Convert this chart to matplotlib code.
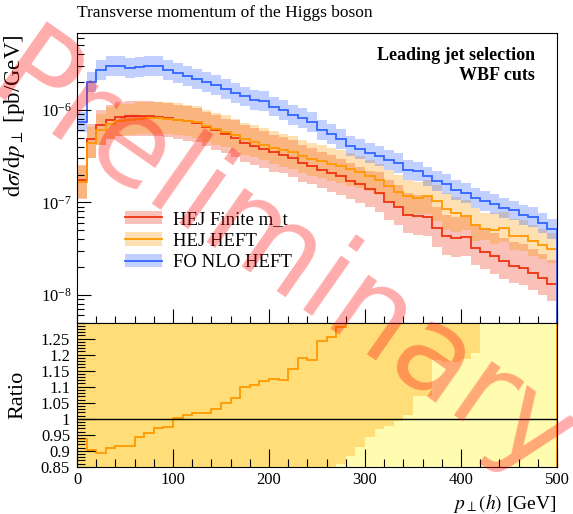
import numpy as np
import matplotlib
matplotlib.use("Agg")
import matplotlib.pyplot as plt
from matplotlib.patches import Patch
from matplotlib.lines import Line2D
from matplotlib.ticker import MultipleLocator, LogLocator, NullFormatter

plt.rcParams['font.family'] = 'serif'
plt.rcParams['font.serif'] = ['Liberation Serif', 'DejaVu Serif']
plt.rcParams['mathtext.fontset'] = 'stix'

# pT bins, 10 GeV wide
edges = np.arange(0, 510, 10)

# HEJ Finite m_t  [pb/GeV]
finite = [1.76e-7, 4.89e-7, 6.81e-7, 7.85e-7, 8.40e-7, 8.53e-7, 8.53e-7, 8.53e-7, 8.40e-7, 8.26e-7,
          7.85e-7, 7.53e-7, 7.23e-7, 6.55e-7, 6.01e-7, 5.54e-7, 5.01e-7, 4.39e-7, 4.11e-7, 3.78e-7,
          3.47e-7, 3.28e-7, 3.02e-7, 2.67e-7, 2.49e-7, 2.26e-7, 2.08e-7, 1.91e-7, 1.72e-7, 1.57e-7,
          1.40e-7, 1.25e-7, 1.02e-7, 8.97e-8, 7.35e-8, 7.05e-8, 6.94e-8, 5.27e-8, 4.28e-8, 4.11e-8,
          4.22e-8, 3.21e-8, 2.94e-8, 2.60e-8, 2.30e-8, 2.06e-8, 1.95e-8, 1.72e-8, 1.52e-8, 1.32e-8]
# HEJ HEFT
heft = [1.65e-7, 4.41e-7, 6.09e-7, 7.12e-7, 7.68e-7, 7.80e-7, 8.03e-7, 8.15e-7, 8.16e-7, 8.05e-7,
        7.87e-7, 7.62e-7, 7.36e-7, 6.67e-7, 6.20e-7, 5.81e-7, 5.34e-7, 4.82e-7, 4.54e-7, 4.22e-7,
        3.90e-7, 3.68e-7, 3.49e-7, 3.18e-7, 2.95e-7, 2.81e-7, 2.61e-7, 2.46e-7, 2.28e-7, 2.12e-7,
        1.93e-7, 1.74e-7, 1.49e-7, 1.31e-7, 1.16e-7, 1.11e-7, 1.16e-7, 1.04e-7, 8.53e-8, 7.67e-8,
        7.16e-8, 5.73e-8, 5.14e-8, 5.06e-8, 5.27e-8, 4.36e-8, 4.28e-8, 3.78e-8, 3.48e-8, 3.13e-8]
# FO NLO HEFT
fonlo = [7.41e-7, 2.01e-6, 2.73e-6, 3.02e-6, 2.97e-6, 2.82e-6, 2.92e-6, 2.97e-6, 3.02e-6, 2.69e-6,
         2.52e-6, 2.31e-6, 2.17e-6, 1.99e-6, 1.85e-6, 1.69e-6, 1.52e-6, 1.40e-6, 1.29e-6, 1.24e-6,
         1.09e-6, 1.01e-6, 8.89e-7, 8.19e-7, 7.34e-7, 6.12e-7, 5.54e-7, 4.85e-7, 4.11e-7, 3.78e-7,
         3.42e-7, 3.15e-7, 2.85e-7, 2.65e-7, 2.22e-7, 2.16e-7, 1.91e-7, 1.69e-7, 1.59e-7, 1.37e-7,
         1.26e-7, 1.11e-7, 1.04e-7, 9.66e-8, 8.69e-8, 8.18e-8, 7.35e-8, 6.94e-8, 5.97e-8, 5.19e-8]

# scale-variation bands, relative to the central value
finite_lo = [0.62] * 21 + [0.63] * 20 + [0.65] * 9
finite_hi = [1.45] * 16 + [1.55] * 15 + [1.70] * 10 + [1.80] * 9
heft_lo = ([0.68] * 20 + [0.66] * 7 +
           [0.667, 0.666, 0.675, 0.685, 0.695, 0.67, 0.68, 0.64, 0.68, 0.64, 0.60, 0.59, 0.63, 0.70, 0.675,
            0.76, 0.70, 0.70, 0.70, 0.70, 0.70, 0.70, 0.70])
heft_hi = [1.50] * 50
fonlo_lo = [0.78] * 50
fonlo_hi = [1.28] * 50

labels = ["HEJ Finite m_t", "HEJ HEFT", "FO NLO HEFT"]
colors = ["#ee3311", "#ff9900", "#3366ff"]

finite = np.array(finite)
heft = np.array(heft)
fonlo = np.array(fonlo)
series = [(finite, finite_lo, finite_hi), (heft, heft_lo, heft_hi), (fonlo, fonlo_lo, fonlo_hi)]

fig = plt.figure(figsize=(5.73, 5.14), dpi=100)
ax = fig.add_axes([0.1344, 0.3722, 0.8377, 0.5636])
axr = fig.add_axes([0.1344, 0.0920, 0.8377, 0.2802], sharex=ax)

for (vals, lo, hi), c in zip(series, colors):
    ax.stairs(vals * np.array(hi), edges, baseline=vals * np.array(lo), fill=True,
              color=c, alpha=0.3, lw=0)
for (vals, lo, hi), c in zip(series, colors):
    ax.stairs(vals, edges, color=c, lw=1.3)

ax.set_yscale('log')
ax.set_ylim(5.0e-9, 6.8e-6)
ax.set_xlim(0, 500)
ax.yaxis.set_major_locator(LogLocator(base=10, numticks=10))
ax.yaxis.set_minor_locator(LogLocator(base=10, subs=np.arange(2, 10), numticks=20))
ax.yaxis.set_minor_formatter(NullFormatter())
ax.xaxis.set_major_locator(MultipleLocator(100))
ax.xaxis.set_minor_locator(MultipleLocator(20))
ax.tick_params(which='both', direction='in', labelsize=12, top=False, right=False)
ax.tick_params(which='major', length=10, width=0.8)
ax.tick_params(which='minor', length=5, width=0.8)
ax.tick_params(labelbottom=False)
ax.set_ylabel(r'$\mathrm{d}\sigma/\mathrm{d}p_\perp$ [pb/GeV]', fontsize=16.5, loc='top')
ax.yaxis.set_label_coords(-0.104, 0.995)

ax.text(0.954, 0.924, "Leading jet selection", transform=ax.transAxes, ha='right', va='center',
        fontsize=13, fontweight='bold')
ax.text(0.954, 0.855, "WBF cuts", transform=ax.transAxes, ha='right', va='center',
        fontsize=13, fontweight='bold')

handles = [(Patch(facecolor=c, alpha=0.3, edgecolor='none'), Line2D([], [], color=c, lw=1.3))
           for c in colors]
ax.legend(handles, labels, loc='upper left', bbox_to_anchor=(0.064, 0.445), frameon=False,
          fontsize=13.5, handlelength=2.0, handletextpad=0.6, labelspacing=0.25)

# ratio panel: everything divided by HEJ Finite m_t
axr.stairs(np.array(finite_hi), edges, baseline=np.array(finite_lo), fill=True,
           color='#fffcb0', lw=0)
axr.stairs(heft * np.array(heft_hi) / finite, edges, baseline=heft * np.array(heft_lo) / finite,
           fill=True, color=colors[1], alpha=0.3, lw=0)
axr.axhline(1.0, color='black', lw=1.0)
axr.stairs(heft / finite, edges, color=colors[1], lw=1.3)
axr.set_ylim(0.85, 1.30)
axr.set_xlim(0, 500)
axr.yaxis.set_minor_locator(MultipleLocator(0.01))
axr.set_yticks([0.85, 0.9, 0.95, 1.0, 1.05, 1.1, 1.15, 1.2, 1.25])
axr.set_yticklabels(['0.85', '0.9', '0.95', '1', '1.05', '1.1', '1.15', '1.2', '1.25'])
axr.tick_params(which='both', direction='in', labelsize=12, top=False, right=False)
axr.tick_params(which='major', length=13, width=0.8)
axr.tick_params(which='minor', length=6, width=0.8)
axr.tick_params(axis='y', pad=5)
axr.set_ylabel('Ratio', fontsize=16)
axr.yaxis.set_label_coords(-0.104, 0.5)
axr.set_xlabel(r'$p_\perp(h)$ [GeV]', fontsize=14, loc='right', labelpad=3)

fig.text(0.1344, 1 - 13 / 514, "Transverse momentum of the Higgs boson", fontsize=12.5,
         ha='left', va='center')

# watermark
fig.text(0.490, 0.490, "Preliminary", rotation=-35, fontsize=87, color='red', alpha=0.33,
         ha='center', va='center', family='DejaVu Sans', zorder=20)

fig.savefig("out.png", dpi=100)
